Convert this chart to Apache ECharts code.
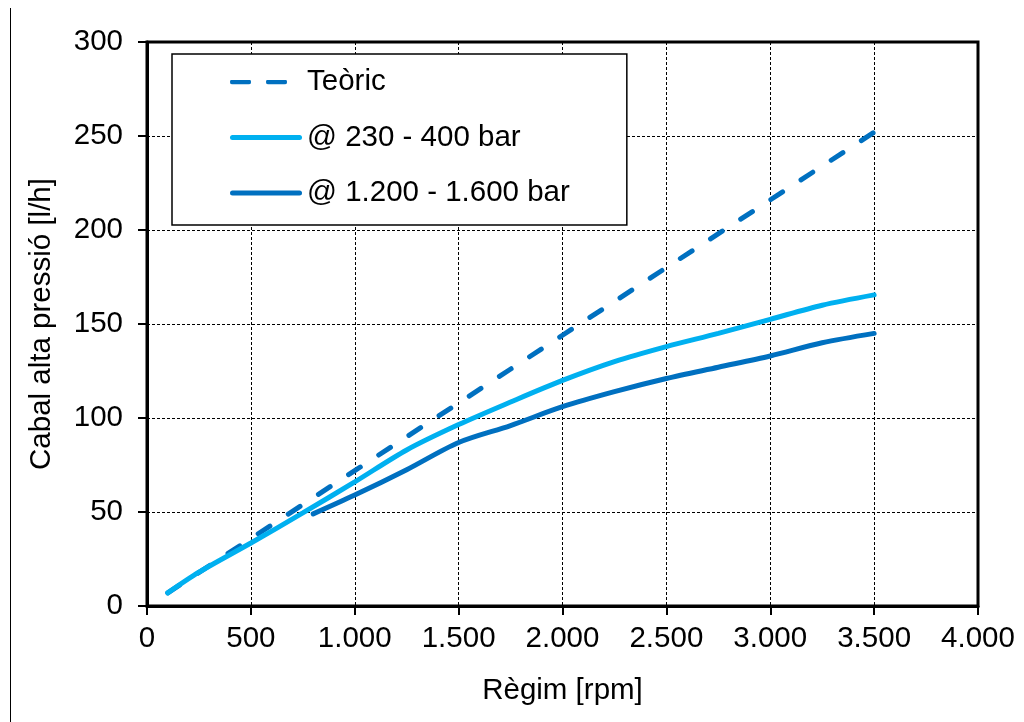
<!DOCTYPE html>
<html><head><meta charset="utf-8">
<script src="https://cdn.jsdelivr.net/npm/echarts@6/dist/echarts.min.js"></script>
<style>html,body{margin:0;padding:0;background:#fff}#c{width:1024px;height:722px}</style>
</head><body><div id="c"></div>
<script>
const seriesNames = ['Teòric', '@ 230 - 400 bar', '@ 1.200 - 1.600 bar'];
const teoricData = [[100, 7], [1000, 72], [2000, 144], [3000, 216], [3500, 252]];
const lowPressData = [[100, 7], [250, 18], [500, 33.5], [750, 49.5], [1000, 66], [1250, 83], [1500, 96.5], [1750, 108.5], [2000, 120], [2250, 130], [2500, 138], [2750, 145], [3000, 152.5], [3250, 160], [3500, 165.5]];
const highPressData = [[800, 49], [1000, 59], [1250, 72.5], [1500, 87], [1750, 96], [2000, 106], [2250, 114], [2500, 121], [2750, 127], [3000, 133], [3250, 140], [3500, 145]];
const xTitle = 'Règim [rpm]';
const yTitle = 'Cabal alta pressió [l/h]';

const FONT = 'Liberation Sans, Arial, sans-serif';
const FS = 29.5;
const chart = echarts.init(document.getElementById('c'), null, {renderer: 'canvas'});
function fmtThousands(v) {
  return String(v).replace(/\B(?=(\d{3})+(?!\d))/g, '.');
}
const dashSvg = '<svg xmlns="http://www.w3.org/2000/svg" width="72" height="5" viewBox="0 0 72 5">' +
  '<rect x="0" y="0" width="21" height="5" rx="2.5" fill="#0070C0"/>' +
  '<rect x="36" y="0" width="21" height="5" rx="2.5" fill="#0070C0"/></svg>';
const dashIcon = 'image://data:image/svg+xml;charset=utf-8,' + encodeURIComponent(dashSvg);
const solidIcon = 'path://M2.5,0h67a2.5,2.5 0 0 1 0,5h-67a2.5,2.5 0 0 1 0,-5z';
chart.setOption({
  animation: false,
  backgroundColor: '#fff',
  graphic: [{
    type: 'line', shape: {x1: 10.5, y1: 8, x2: 10.5, y2: 722},
    style: {stroke: '#000', lineWidth: 1}
  }],
  grid: {left: 147, right: 46, top: 42, bottom: 116, show: true, borderColor: '#000', borderWidth: 3, backgroundColor: 'transparent'},
  legend: {
    orient: 'vertical', left: 172, top: 54,
    padding: [13, 57, 17, 58],
    itemGap: 25.5, itemWidth: 72, itemHeight: 5, symbolKeepAspect: false,
    backgroundColor: '#fff', borderColor: '#000', borderWidth: 1.5,
    textStyle: {fontFamily: FONT, fontSize: FS, color: '#000'},
    data: [
      {name: seriesNames[0], icon: dashIcon},
      {name: seriesNames[1], icon: solidIcon},
      {name: seriesNames[2], icon: solidIcon}
    ]
  },
  xAxis: {
    type: 'value', min: 0, max: 4000, interval: 500,
    name: xTitle, nameLocation: 'middle', nameGap: 70,
    nameTextStyle: {fontFamily: FONT, fontSize: FS, color: '#000'},
    axisLine: {show: true, onZero: false, lineStyle: {color: '#000', width: 3}},
    axisTick: {show: true, inside: false, length: 9, lineStyle: {color: '#000', width: 2}},
    axisLabel: {fontFamily: FONT, fontSize: FS, color: '#000', margin: 18, formatter: fmtThousands},
    splitLine: {show: true, lineStyle: {color: '#000', width: 1, type: [3, 2]}}
  },
  yAxis: {
    type: 'value', min: 0, max: 300, interval: 50,
    name: yTitle, nameLocation: 'middle', nameGap: 90,
    nameTextStyle: {fontFamily: FONT, fontSize: FS, color: '#000'},
    axisLine: {show: true, onZero: false, lineStyle: {color: '#000', width: 3}},
    axisTick: {show: true, inside: false, length: 9, lineStyle: {color: '#000', width: 2}},
    axisLabel: {fontFamily: FONT, fontSize: FS, color: '#000', margin: 24},
    splitLine: {show: true, lineStyle: {color: '#000', width: 1, type: [3, 2]}}
  },
  series: [
    {name: seriesNames[0], type: 'line', data: teoricData, symbol: 'none', z: 3,
     lineStyle: {color: '#0070C0', width: 5, type: [14, 22], cap: 'round'}, itemStyle: {color: '#0070C0'}},
    {name: seriesNames[1], type: 'line', data: lowPressData, symbol: 'none', smooth: 0.3, z: 4,
     lineStyle: {color: '#00B0F0', width: 5, cap: 'round'}, itemStyle: {color: '#00B0F0'}},
    {name: seriesNames[2], type: 'line', data: highPressData, symbol: 'none', smooth: 0.3, z: 4,
     lineStyle: {color: '#0070C0', width: 5, cap: 'round'}, itemStyle: {color: '#0070C0'}}
  ]
});
</script></body></html>
